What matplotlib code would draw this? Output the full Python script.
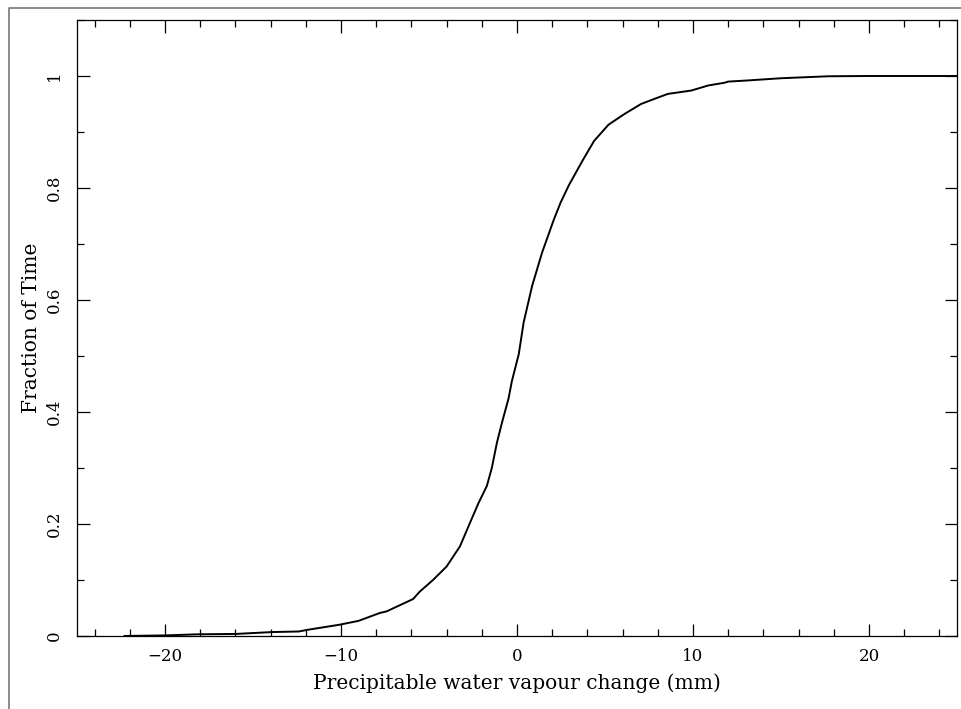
import matplotlib
matplotlib.use("Agg")
import matplotlib.pyplot as plt
from matplotlib.lines import Line2D
from matplotlib.ticker import FixedLocator, FixedFormatter, MultipleLocator

# Data (cumulative fraction of time)
pwv_change = [-22.3, -20.0, -18.1, -16.0, -13.9, -12.4, -11.9, -10.1, -9.0, -7.8,
              -7.4, -5.9, -5.53, -4.77, -4.0, -3.24, -2.67, -2.19, -1.71, -1.43,
              -1.14, -0.86, -0.48, -0.29, 0.1, 0.38, 0.86, 1.43, 2.1, 2.48,
              2.95, 3.71, 4.38, 5.2, 6.1, 7.05, 7.8, 8.57, 9.9, 10.86,
              11.8, 12.0, 13.1, 15.0, 17.7, 20.0, 25.0]
fraction = [0.0, 0.001, 0.003, 0.0036, 0.007, 0.008, 0.011, 0.020, 0.027, 0.041,
            0.044, 0.066, 0.079, 0.100, 0.124, 0.160, 0.202, 0.237, 0.268, 0.300,
            0.345, 0.380, 0.424, 0.455, 0.503, 0.560, 0.625, 0.685, 0.744, 0.774,
            0.805, 0.848, 0.884, 0.913, 0.932, 0.950, 0.959, 0.968, 0.974, 0.983,
            0.988, 0.990, 0.992, 0.996, 0.9995, 1.0, 1.0]

xticks = [-20, -10, 0, 10, 20]
xticklabels = ["\u221220", "\u221210", "0", "10", "20"]
yticks = [0, 0.2, 0.4, 0.6, 0.8, 1.0]
yticklabels = ["0", "0.2", "0.4", "0.6", "0.8", "1"]

plt.rcParams['font.family'] = ['DejaVu Serif', 'DejaVu Sans']

fig = plt.figure(figsize=(9.61, 7.09), dpi=100)
ax = fig.add_axes([0.0801, 0.1030, 0.9157, 0.8688])

ax.plot(pwv_change, fraction, color="black", lw=1.4)

ax.set_xlim(-25, 25)
ax.set_ylim(0, 1.1)

ax.xaxis.set_major_locator(FixedLocator(xticks))
ax.xaxis.set_major_formatter(FixedFormatter(xticklabels))
ax.xaxis.set_minor_locator(MultipleLocator(2))
ax.yaxis.set_major_locator(FixedLocator(yticks))
ax.yaxis.set_major_formatter(FixedFormatter(yticklabels))
ax.yaxis.set_minor_locator(MultipleLocator(0.1))

ax.tick_params(which="both", direction="in", top=True, right=True, color="black", width=0.9)
ax.tick_params(which="major", length=9)
ax.tick_params(which="minor", length=5)
ax.tick_params(axis="x", which="major", labelsize=12, pad=9)
ax.tick_params(axis="y", which="major", labelsize=12, pad=10)
for lab in ax.get_yticklabels():
    lab.set_rotation(90)
    lab.set_va("center")

for sp in ax.spines.values():
    sp.set_linewidth(0.9)
    sp.set_color("black")

ax.set_xlabel("Precipitable water vapour change (mm)", fontsize=14.5, labelpad=6)
ax.set_ylabel("Fraction of Time", fontsize=14.5, labelpad=4)

# Outer frame of the figure (left and top edges)
bx = 8.5 / 961
by = 1 - 7.5 / 709
fig.add_artist(Line2D([bx, bx, 1.0], [0.0, by, by], transform=fig.transFigure,
                      color="#777777", lw=1.2))

fig.savefig("out.png", dpi=100)
